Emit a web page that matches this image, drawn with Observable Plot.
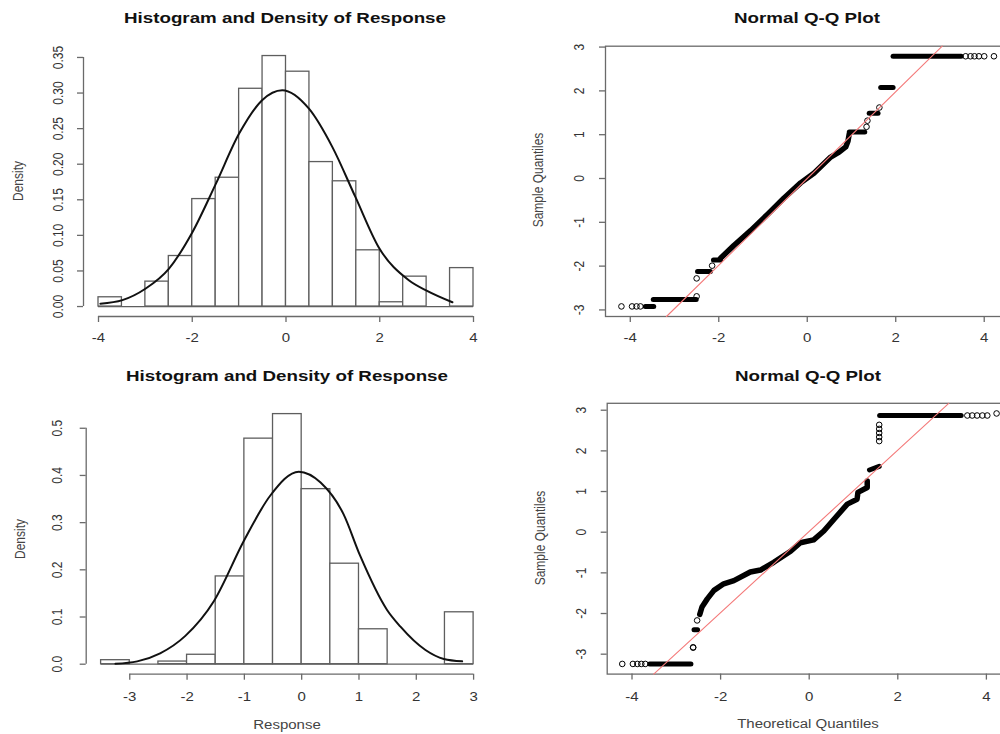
<!DOCTYPE html>
<html><head><meta charset="utf-8">
<script src="https://cdn.jsdelivr.net/npm/d3@7"></script>
<script src="https://cdn.jsdelivr.net/npm/@observablehq/plot@0.6"></script>
<style>
html,body{margin:0;padding:0;background:#fff;}
#root{position:relative;width:1000px;height:734px;overflow:hidden;font-family:"Liberation Sans",Arial,Helvetica,sans-serif;background:#fff;}
#root svg{position:absolute;}
.title{position:absolute;font-weight:bold;font-size:15px;color:#111;white-space:nowrap;transform:translate(-50%,-50%) scaleX(1.25);}
.lab{position:absolute;font-size:12px;color:#444;white-space:nowrap;transform:translate(-50%,-50%) scaleX(1.25);}
.lab.rot{transform:translate(-50%,-50%) rotate(-90deg) scaleY(1.25);}
</style></head><body><div id="root"></div>
<script>
// ---------- data: top histogram ----------
const hist1Breaks = [-4,-3.5,-3,-2.5,-2,-1.5,-1,-0.5,0,0.5,1,1.5,2,2.5,3,3.5,4];
const hist1Density = [0.013,0,0.035,0.071,0.151,0.181,0.306,0.352,0.330,0.203,0.176,0.079,0.006,0.042,0,0.054];
const dens1X = [-3.96,-3.49,-3.0,-2.5,-2.0,-1.5,-1.0,-0.51,-0.08,0.49,0.99,1.48,1.98,2.62,3.01,3.55];
const dens1Y = [0.004,0.009,0.025,0.053,0.104,0.172,0.243,0.290,0.304,0.278,0.224,0.154,0.083,0.037,0.022,0.006];
const hist1XTicks = [-4,-2,0,2,4];
const hist1YTicks = [0,0.05,0.1,0.15,0.2,0.25,0.3,0.35];

// ---------- data: bottom histogram ----------
const hist2Breaks = [-3.5,-3,-2.5,-2,-1.5,-1,-0.5,0,0.5,1,1.5,2,2.5,3];
const hist2Density = [0.0085,0,0.0056,0.020,0.186,0.478,0.530,0.371,0.213,0.074,0,0,0.110];
const dens2X = [-3.25,-2.87,-2.47,-2.03,-1.53,-1.01,-0.55,-0.05,0.33,0.73,1.02,1.49,1.72,2.16,2.48,2.80];
const dens2Y = [0.001,0.006,0.023,0.060,0.134,0.261,0.357,0.408,0.385,0.318,0.230,0.115,0.080,0.030,0.011,0.006];
const hist2XTicks = [-3,-2,-1,0,1,2,3];
const hist2YTicks = [0,0.1,0.2,0.3,0.4,0.5];

// ---------- data: top Q-Q plot ----------
// dense runs of overlapping points (segments)
const qq1SegX1 = [-3.66,-3.48,-2.48,-2.12,0.95,1.40,1.66,1.94];
const qq1SegX2 = [-3.47,-2.51,-2.19,-1.96,1.30,1.60,1.94,3.48];
const qq1SegY1 = [-2.92,-2.76,-2.12,-1.86,1.06,1.49,2.08,2.79];
const qq1SegY2 = [-2.92,-2.76,-2.12,-1.86,1.06,1.49,2.08,2.79];
// dense diagonal band
const qq1PathX = [-1.96,-1.66,-1.28,-0.90,-0.53,-0.15,0.15,0.53,0.72,0.87,0.92,0.95];
const qq1PathY = [-1.82,-1.53,-1.19,-0.82,-0.45,-0.10,0.12,0.49,0.60,0.72,0.85,1.02];
// isolated points
const qq1PtX = [-4.20,-3.96,-3.86,-3.77,-2.50,-2.50,-2.15,1.34,1.36,1.63,3.58,3.69,3.78,3.88,4.00,4.22];
const qq1PtY = [-2.92,-2.92,-2.92,-2.92,-2.69,-2.28,-1.99,1.18,1.32,1.62,2.79,2.79,2.79,2.79,2.79,2.79];
const qq1Slope = 0.99, qq1Intercept = 0.0;

// ---------- data: bottom Q-Q plot ----------
const qq2SegX1 = [-3.60,-2.60,1.36,1.59];
const qq2SegX2 = [-2.67,-2.52,1.58,3.43];
const qq2SegY1 = [-3.24,-2.40,1.53,2.87];
const qq2SegY2 = [-3.24,-2.40,1.62,2.87];
const qq2PathX = [-2.47,-2.42,-2.30,-2.15,-1.93,-1.70,-1.33,-1.10,-0.80,-0.42,-0.20,0.10,0.33,0.56,0.86,1.08,1.10,1.31,1.31];
const qq2PathY = [-2.02,-1.84,-1.64,-1.43,-1.27,-1.19,-0.98,-0.93,-0.74,-0.47,-0.26,-0.19,0.03,0.32,0.69,0.81,0.98,1.10,1.26];
const qq2PtX = [-4.22,-3.98,-3.88,-3.79,-3.70,-2.62,-2.62,-2.53,1.58,1.58,1.58,1.58,1.58,3.57,3.68,3.79,3.91,4.02,4.23];
const qq2PtY = [-3.24,-3.24,-3.24,-3.24,-3.24,-2.84,-2.83,-2.17,2.24,2.34,2.44,2.54,2.64,2.87,2.87,2.87,2.87,2.87,2.92];
const qq2Slope = 1.0, qq2Intercept = 0.02;

const qqXTicks = [-4,-2,0,2,4];
const qqYTicks = [-3,-2,-1,0,1,2,3];

// ---------- styling ----------
const FONT = '"Liberation Sans", Arial, Helvetica, sans-serif';
const STRETCH = 1.25;
const AXIS_GRAY = "#6a6a6a";
const BAR_GRAY = "#5e5e5e";
const TEXT_GRAY = "#333";
const root = document.getElementById("root");

function stretchText(svg) {
  svg.querySelectorAll("text").forEach(t => {
    let tr = t.getAttribute("transform") || "";
    const x = +t.getAttribute("x") || 0, y = +t.getAttribute("y") || 0;
    if (x || y) { tr += ` translate(${x},${y})`; t.removeAttribute("x"); t.removeAttribute("y"); }
    tr += /rotate\(/.test(tr) ? ` scale(1,${STRETCH})` : ` scale(${STRETCH},1)`;
    t.setAttribute("transform", tr.trim());
  });
}
function place(svg, left, top) {
  svg.style.left = left + "px"; svg.style.top = top + "px";
  stretchText(svg);
  root.appendChild(svg);
}
function addText(cls, txt, x, y) {
  const d = document.createElement("div");
  d.className = cls; d.textContent = txt;
  d.style.left = x + "px"; d.style.top = y + "px";
  root.appendChild(d);
}
const baseStyle = {fontFamily: FONT, fontSize: "12px", color: TEXT_GRAY, background: "transparent", overflow: "visible"};

function histPanel(o) {
  const bins = o.dens.map((d, i) => ({x1: o.breaks[i], x2: o.breaks[i + 1], d}));
  const curve = o.curveX.map((x, i) => ({x, y: o.curveY[i]}));
  const xt = o.xTicks, yt = o.yTicks;
  return Plot.plot({
    width: o.width, height: o.height,
    marginLeft: o.m[0], marginRight: o.m[1], marginTop: o.m[2], marginBottom: o.m[3],
    x: {domain: o.xDomain}, y: {domain: o.yDomain},
    style: baseStyle,
    marks: [
      Plot.ruleY([{y: 0, a: o.breaks[0], b: o.breaks[o.breaks.length - 1]}], {y: "y", x1: "a", x2: "b", stroke: BAR_GRAY, strokeWidth: 1.3}),
      Plot.rectY(bins, {x1: "x1", x2: "x2", y1: 0, y2: "d", fill: "white", stroke: BAR_GRAY, strokeWidth: 1.3}),
      Plot.line(curve, {x: "x", y: "y", stroke: "#111", strokeWidth: 2, curve: "monotone-x"}),
      Plot.ruleY([{y: o.yDomain[0], a: xt[0], b: xt[xt.length - 1]}], {y: "y", x1: "a", x2: "b", stroke: AXIS_GRAY, strokeWidth: 1.3}),
      Plot.ruleX([{x: o.xDomain[0], a: yt[0], b: yt[yt.length - 1]}], {x: "x", y1: "a", y2: "b", stroke: AXIS_GRAY, strokeWidth: 1.3}),
      Plot.axisX(xt, {tickSize: 6, tickPadding: o.xPad, tickFormat: d => String(d), stroke: AXIS_GRAY, strokeWidth: 1.3, fill: TEXT_GRAY, label: null}),
      Plot.axisY(yt, {tickSize: 6, tickPadding: o.yPad, tickRotate: -90, tickFormat: d3.format(o.yFmt), stroke: AXIS_GRAY, strokeWidth: 1.3, fill: TEXT_GRAY, label: null})
    ]
  });
}

function qqPanel(o) {
  const segs = o.segX1.map((x1, i) => ({x1, x2: o.segX2[i], y1: o.segY1[i], y2: o.segY2[i]}));
  const path = o.pathX.map((x, i) => ({x, y: o.pathY[i]}));
  const pts = o.ptX.map((x, i) => ({x, y: o.ptY[i]}));
  const [xa0, xb0] = o.xDomain, [ya0, yb0] = o.yDomain;
  const f = x => o.intercept + o.slope * x, g = y => (y - o.intercept) / o.slope;
  const xa = Math.max(xa0, g(ya0)), xb = Math.min(xb0, g(yb0));
  const qqline = [{x: xa, y: f(xa)}, {x: xb, y: f(xb)}];
  return Plot.plot({
    width: o.width, height: o.height,
    marginLeft: o.m[0], marginRight: o.m[1], marginTop: o.m[2], marginBottom: o.m[3],
    x: {domain: o.xDomain}, y: {domain: o.yDomain},
    style: baseStyle,
    marks: [
      Plot.frame({stroke: AXIS_GRAY, strokeWidth: 1.3}),
      Plot.link(segs, {x1: "x1", y1: "y1", x2: "x2", y2: "y2", stroke: "#000", strokeWidth: 5, strokeLinecap: "round"}),
      Plot.line(path, {x: "x", y: "y", stroke: "#000", strokeWidth: 5.5, strokeLinecap: "round", strokeLinejoin: "round"}),
      Plot.dot(pts, {x: "x", y: "y", r: 2.8, stroke: "#000", strokeWidth: 1, fill: "none"}),
      Plot.line(qqline, {x: "x", y: "y", stroke: "#f47a7a", strokeWidth: 1.1}),
      Plot.axisX(o.xTicks, {tickSize: 6, tickPadding: o.xPad, tickFormat: d => String(d), stroke: AXIS_GRAY, strokeWidth: 1.3, fill: TEXT_GRAY, label: null}),
      Plot.axisY(o.yTicks, {tickSize: 6, tickPadding: o.yPad, tickRotate: -90, tickFormat: d => String(d), stroke: AXIS_GRAY, strokeWidth: 1.3, fill: TEXT_GRAY, label: null})
    ]
  });
}

// top-left
place(histPanel({
  breaks: hist1Breaks, dens: hist1Density, curveX: dens1X, curveY: dens1Y,
  xTicks: hist1XTicks, yTicks: hist1YTicks, yFmt: ".2f",
  xDomain: [-4.32, 4.32], yDomain: [-0.014, 0.364],
  width: 500, height: 367, m: [83, 12, 47, 51], xPad: 11, yPad: 15
}), 0, 0);
// top-right
place(qqPanel({
  segX1: qq1SegX1, segX2: qq1SegX2, segY1: qq1SegY1, segY2: qq1SegY2,
  pathX: qq1PathX, pathY: qq1PathY, ptX: qq1PtX, ptY: qq1PtY,
  slope: qq1Slope, intercept: qq1Intercept,
  xTicks: qqXTicks, yTicks: qqYTicks,
  xDomain: [-4.56, 4.56], yDomain: [-3.15, 3.02],
  width: 520, height: 367, m: [105, 11.5, 45.7, 51], xPad: 11, yPad: 16
}), 500, 0);
// bottom-left
place(histPanel({
  breaks: hist2Breaks, dens: hist2Density, curveX: dens2X, curveY: dens2Y,
  xTicks: hist2XTicks, yTicks: hist2YTicks, yFmt: ".1f",
  xDomain: [-3.76, 3.26], yDomain: [-0.0212, 0.5512],
  width: 500, height: 367, m: [85.7, 12, 36.6, 60.3], xPad: 12, yPad: 18
}), 0, 367);
// bottom-right
place(qqPanel({
  segX1: qq2SegX1, segX2: qq2SegX2, segY1: qq2SegY1, segY2: qq2SegY2,
  pathX: qq2PathX, pathY: qq2PathY, ptX: qq2PtX, ptY: qq2PtY,
  slope: qq2Slope, intercept: qq2Intercept,
  xTicks: qqXTicks, yTicks: qqYTicks,
  xDomain: [-4.56, 4.56], yDomain: [-3.49, 3.17],
  width: 520, height: 367, m: [106.7, 9.3, 35.8, 60.4], xPad: 12, yPad: 15
}), 500, 367);

// titles and axis labels
addText("title", "Histogram and Density of Response", 285, 17);
addText("title", "Normal Q-Q Plot", 807, 17);
addText("title", "Histogram and Density of Response", 287, 375);
addText("title", "Normal Q-Q Plot", 808, 375);
addText("lab rot", "Density", 18, 181);
addText("lab rot", "Density", 20, 539);
addText("lab rot", "Sample Quantiles", 538, 180);
addText("lab rot", "Sample Quantiles", 540, 538);
addText("lab", "Response", 287, 725);
addText("lab", "Theoretical Quantiles", 808, 724);
</script></body></html>
